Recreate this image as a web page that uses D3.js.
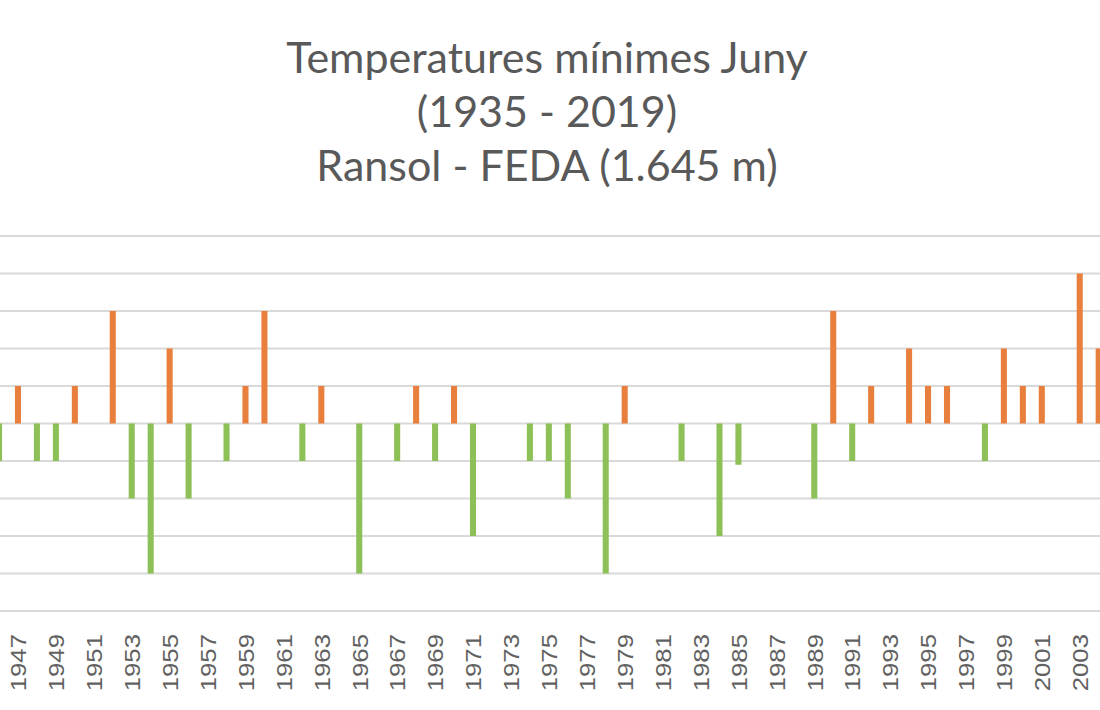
<!DOCTYPE html>
<html>
<head>
<meta charset="utf-8">
<script src="https://cdn.jsdelivr.net/npm/d3@7"></script>
<style>
  body { margin: 0; background: #fff; }
  svg { display: block; }
</style>
</head>
<body>
<div id="chart"></div>
<script>
// visible part of the chart, years 1946 - 2004
const years = d3.range(1946, 2005)
const values = [
  -1, 1, -1, -1, 1, 0, 3, -2, -4, 2,      // 1946-1955
  -2, 0, -1, 1, 3, 0, -1, 1, 0, -4,       // 1956-1965
  0, -1, 1, -1, 1, -3, 0, 0, -1, -1,      // 1966-1975
  -2, 0, -4, 1, 0, 0, -1, 0, -3, -1.1,    // 1976-1985
  0, 0, 0, -2, 3, -1, 1, 0, 2, 1,         // 1986-1995
  1, 0, -1, 2, 1, 1, 0, 4, 2              // 1996-2004
]
const titleLines = ["Temperatures mínimes Juny", "(1935 - 2019)", "Ransol - FEDA (1.645 m)"]
const gridTicks = d3.range(-5, 6)

const width = 1100, height = 710

var dataset = []
years.forEach((y, i) => dataset.push({ year: y, value: values[i] }))

const svg = d3.select("#chart")
    .append("svg")
    .attr("width", width)
    .attr("height", height)

const step = 18.96
const x = d3.scaleBand()
    .domain(years)
    .range([-1 - step / 2, -1 - step / 2 + step * years.length])
    .paddingInner(0.68)
    .paddingOuter(0.34)

const y = d3.scaleLinear()
    .domain([-5, 5])
    .range([611, 236])

// gridlines
svg.append("g")
    .selectAll("line")
    .data(gridTicks)
    .enter()
    .append("line")
    .attr("x1", 0)
    .attr("x2", width)
    .attr("y1", d => y(d))
    .attr("y2", d => y(d))
    .attr("stroke", "#d9d9d9")
    .attr("stroke-width", 2)

// bars
svg.append("g")
    .selectAll("rect")
    .data(dataset.filter(d => d.value !== 0))
    .enter()
    .append("rect")
    .attr("x", d => x(d.year))
    .attr("width", x.bandwidth())
    .attr("y", d => y(Math.max(0, d.value)))
    .attr("height", d => Math.abs(y(d.value) - y(0)))
    .attr("fill", d => d.value > 0 ? "#e97f3c" : "#8dc157")

// year labels, every second year
const xAxis = d3.axisBottom(x)
    .tickValues(years.filter(yr => yr % 2 === 1))
    .tickSize(0)
    .tickPadding(0)

const axisG = svg.append("g")
    .attr("transform", "translate(0, 634)")
    .call(xAxis)
axisG.select(".domain").remove()
axisG.selectAll("text")
    .attr("transform", "rotate(-90) scale(1.12, 1)")
    .attr("x", 0)
    .attr("y", 0)
    .attr("dy", "0.36em")
    .style("text-anchor", "end")
    .style("font-family", "'Liberation Sans', Arial, sans-serif")
    .style("font-size", "23px")
    .style("fill", "#616161")

// title
svg.append("g")
    .selectAll("text")
    .data(titleLines)
    .enter()
    .append("text")
    .text(d => d)
    .attr("x", 547)
    .attr("y", (d, i) => 73 + i * 54)
    .style("text-anchor", "middle")
    .style("font-family", "Lato, 'Open Sans', sans-serif")
    .style("font-size", "43px")
    .style("fill", "#595959")
</script>
</body>
</html>
